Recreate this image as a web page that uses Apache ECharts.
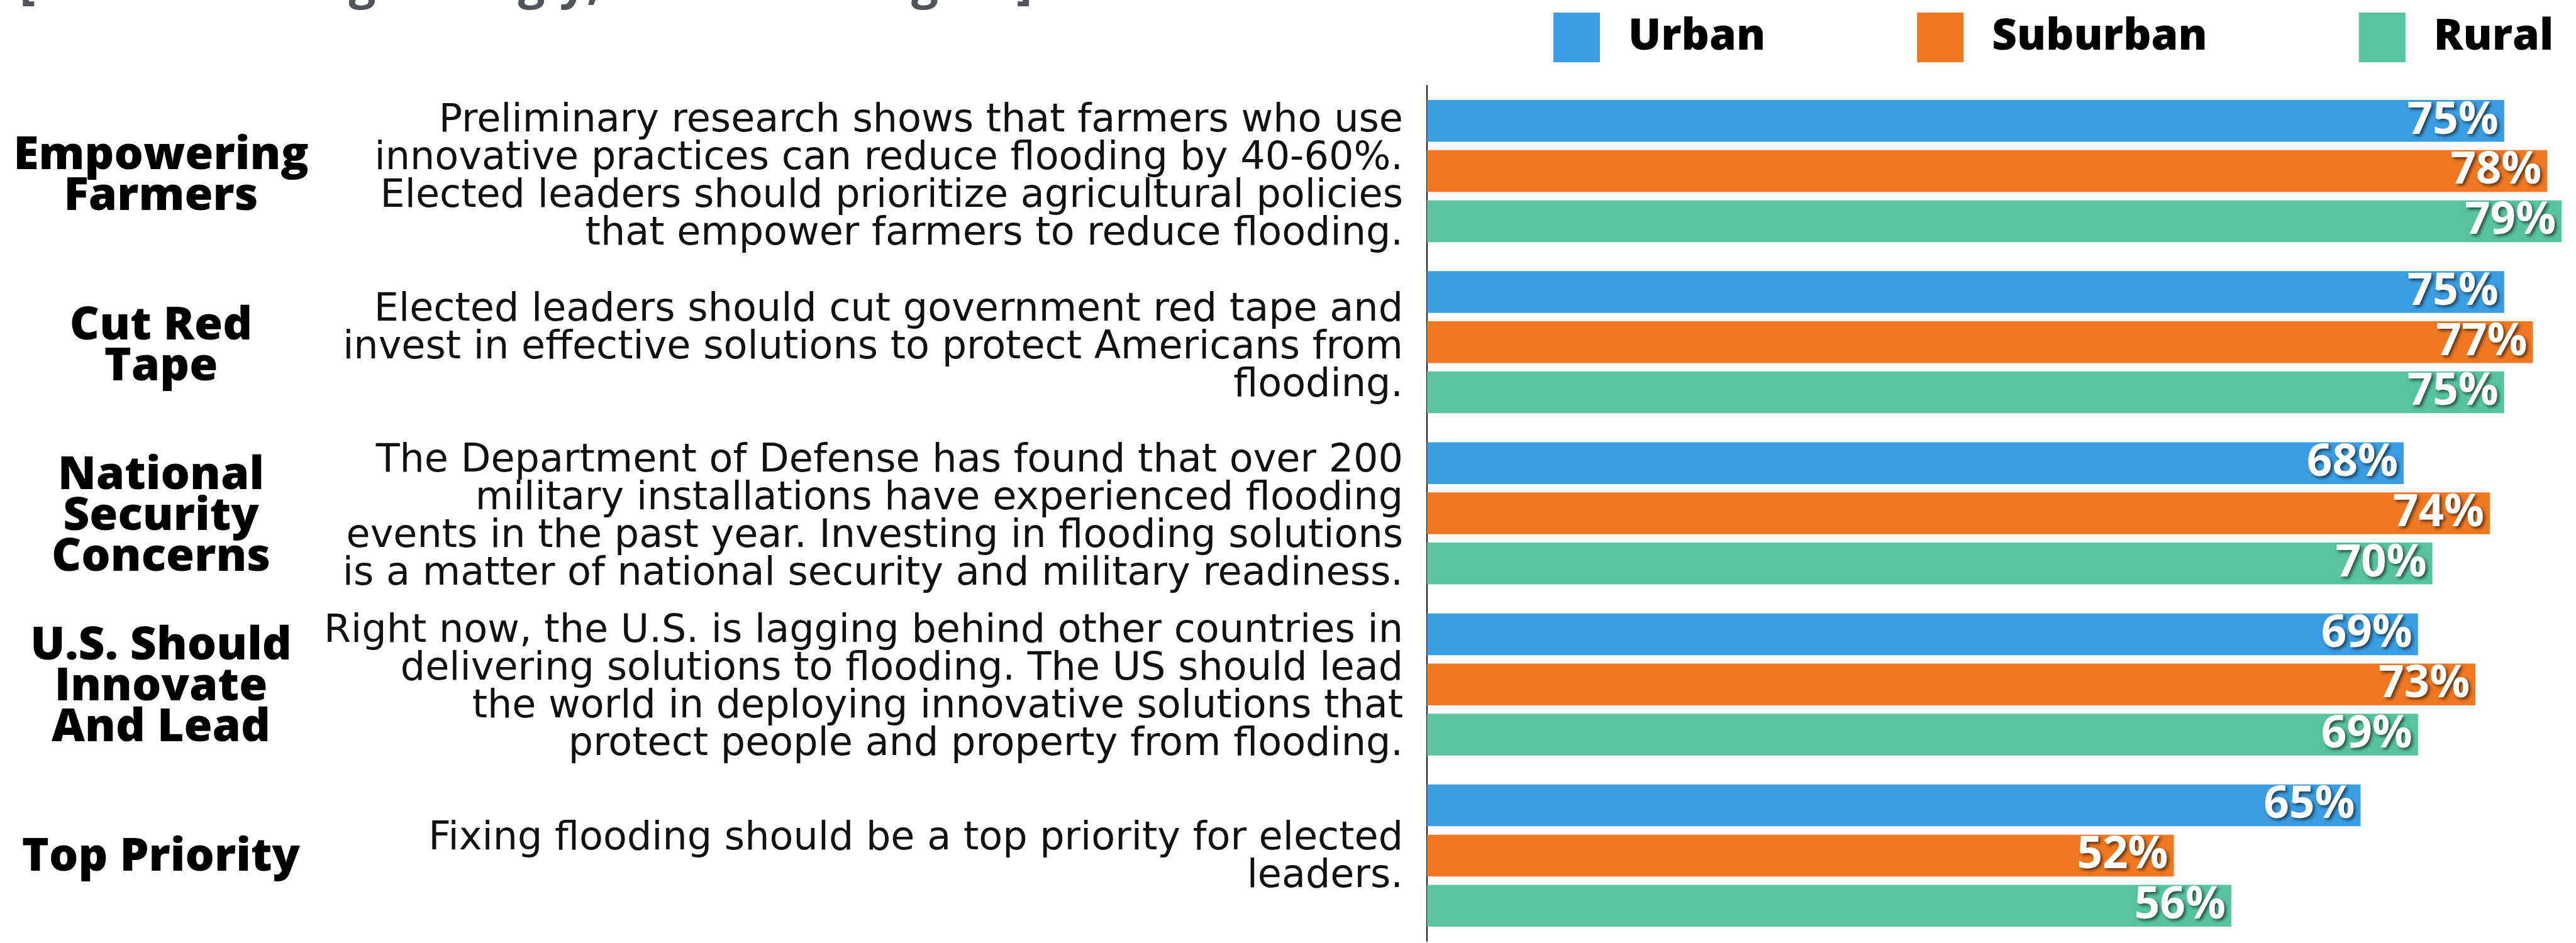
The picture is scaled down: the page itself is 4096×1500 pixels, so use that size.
<!DOCTYPE html>
<html>
<head>
<meta charset="utf-8">
<script src="https://cdn.jsdelivr.net/npm/echarts@6/dist/echarts.min.js"></script>
<style>
  html, body { margin: 0; padding: 0; background: #ffffff; }
  #chart { width: 4096px; height: 1500px; }
</style>
</head>
<body>
<div id="chart"></div>
<script>
// Policy statements (top to bottom) and share agreeing, by community type
const topics = [
  'Empowering\nFarmers',
  'Cut Red\nTape',
  'National\nSecurity\nConcerns',
  'U.S. Should\nInnovate\nAnd Lead',
  'Top Priority'
];
const statements = [
  'Preliminary research shows that farmers who use\ninnovative practices can reduce flooding by 40-60%.\nElected leaders should prioritize agricultural policies\nthat empower farmers to reduce flooding.',
  'Elected leaders should cut government red tape and\ninvest in effective solutions to protect Americans from\nflooding.',
  'The Department of Defense has found that over 200\nmilitary installations have experienced flooding\nevents in the past year. Investing in flooding solutions\nis a matter of national security and military readiness.',
  'Right now, the U.S. is lagging behind other countries in\ndelivering solutions to flooding. The US should lead\nthe world in deploying innovative solutions that\nprotect people and property from flooding.',
  'Fixing flooding should be a top priority for elected\nleaders.'
];
const seriesNames = ['Urban', 'Suburban', 'Rural'];
const urban = [75, 75, 68, 69, 65];
const suburban = [78, 77, 74, 73, 52];
const rural = [79, 75, 70, 69, 56];
const headline = '[Total Favoring Strongly, Somewhat Agree]';

const FONT = '"Open Sans", "Noto Sans", sans-serif';
const BODY_FONT = '"DejaVu Sans", "Open Sans", sans-serif';
const colors = ['#3a9ee4', '#f17822', '#56c59e'];

const GRID_LEFT = 2269;
const GRID_TOP = 136;
const GRID_BOTTOM = 3;
// the two text columns sit slightly below the bar groups' centres
const STATEMENT_SHIFT = 12;
const TOPIC_SHIFT = 9;

const chart = echarts.init(document.getElementById('chart'), null, { renderer: 'canvas' });

function barSeries(name, values, color) {
  return {
    name: name,
    type: 'bar',
    xAxisIndex: 0,
    yAxisIndex: 0,
    barWidth: 66.5,
    barGap: '20%',
    itemStyle: { color: color },
    label: {
      show: true,
      position: 'insideRight',
      distance: 9,
      formatter: '{c}%',
      color: '#ffffff',
      fontFamily: FONT,
      fontWeight: 'bold',
      fontSize: 71,
      textShadowColor: 'rgba(0,0,0,0.6)',
      textShadowBlur: 5,
      textShadowOffsetX: 3,
      textShadowOffsetY: 3
    },
    data: values
  };
}

function textGrid(shift) {
  return {
    left: GRID_LEFT,
    right: 0,
    top: GRID_TOP + shift,
    bottom: GRID_BOTTOM - shift,
    containLabel: false
  };
}

chart.setOption({
  animation: false,
  color: colors,
  graphic: [{
    type: 'text',
    x: 31,
    y: 14,
    silent: true,
    style: {
      text: headline,
      fill: '#50545c',
      fontFamily: FONT,
      fontWeight: 'bold',
      fontSize: 76,
      verticalAlign: 'bottom'
    }
  }],
  legend: {
    left: 2465,
    top: 15,
    itemWidth: 74,
    itemHeight: 79,
    itemGap: 241,
    icon: 'rect',
    data: seriesNames,
    textStyle: {
      fontFamily: FONT,
      fontWeight: 800,
      fontSize: 69,
      color: '#000000',
      padding: [0, 0, 0, 40]
    }
  },
  grid: [
    { left: GRID_LEFT, right: 0, top: GRID_TOP, bottom: GRID_BOTTOM, containLabel: false },
    textGrid(STATEMENT_SHIFT),
    textGrid(TOPIC_SHIFT)
  ],
  xAxis: [
    { type: 'value', gridIndex: 0, min: 0, max: 80, show: false },
    { type: 'value', gridIndex: 1, min: 0, max: 80, show: false },
    { type: 'value', gridIndex: 2, min: 0, max: 80, show: false }
  ],
  yAxis: [{
    // bar axis: only its line is drawn
    type: 'category',
    gridIndex: 0,
    inverse: true,
    data: topics,
    axisLine: { show: true, lineStyle: { color: '#111111', width: 2 } },
    axisTick: { show: false },
    splitLine: { show: false },
    axisLabel: { show: false }
  }, {
    type: 'category',
    gridIndex: 1,
    inverse: true,
    data: statements,
    axisLine: { show: false },
    axisTick: { show: false },
    splitLine: { show: false },
    axisLabel: {
      margin: 38,
      align: 'right',
      fontFamily: BODY_FONT,
      fontSize: 62,
      lineHeight: 60,
      color: '#111111',
      interval: 0
    }
  }, {
    type: 'category',
    gridIndex: 2,
    inverse: true,
    data: topics,
    axisLine: { show: false },
    axisTick: { show: false },
    splitLine: { show: false },
    axisLabel: {
      margin: GRID_LEFT - 256,
      align: 'center',
      fontFamily: FONT,
      fontWeight: 800,
      fontSize: 73,
      lineHeight: 65,
      color: '#000000',
      interval: 0
    }
  }],
  series: [
    barSeries(seriesNames[0], urban, colors[0]),
    barSeries(seriesNames[1], suburban, colors[1]),
    barSeries(seriesNames[2], rural, colors[2])
  ]
});
</script>
</body>
</html>
